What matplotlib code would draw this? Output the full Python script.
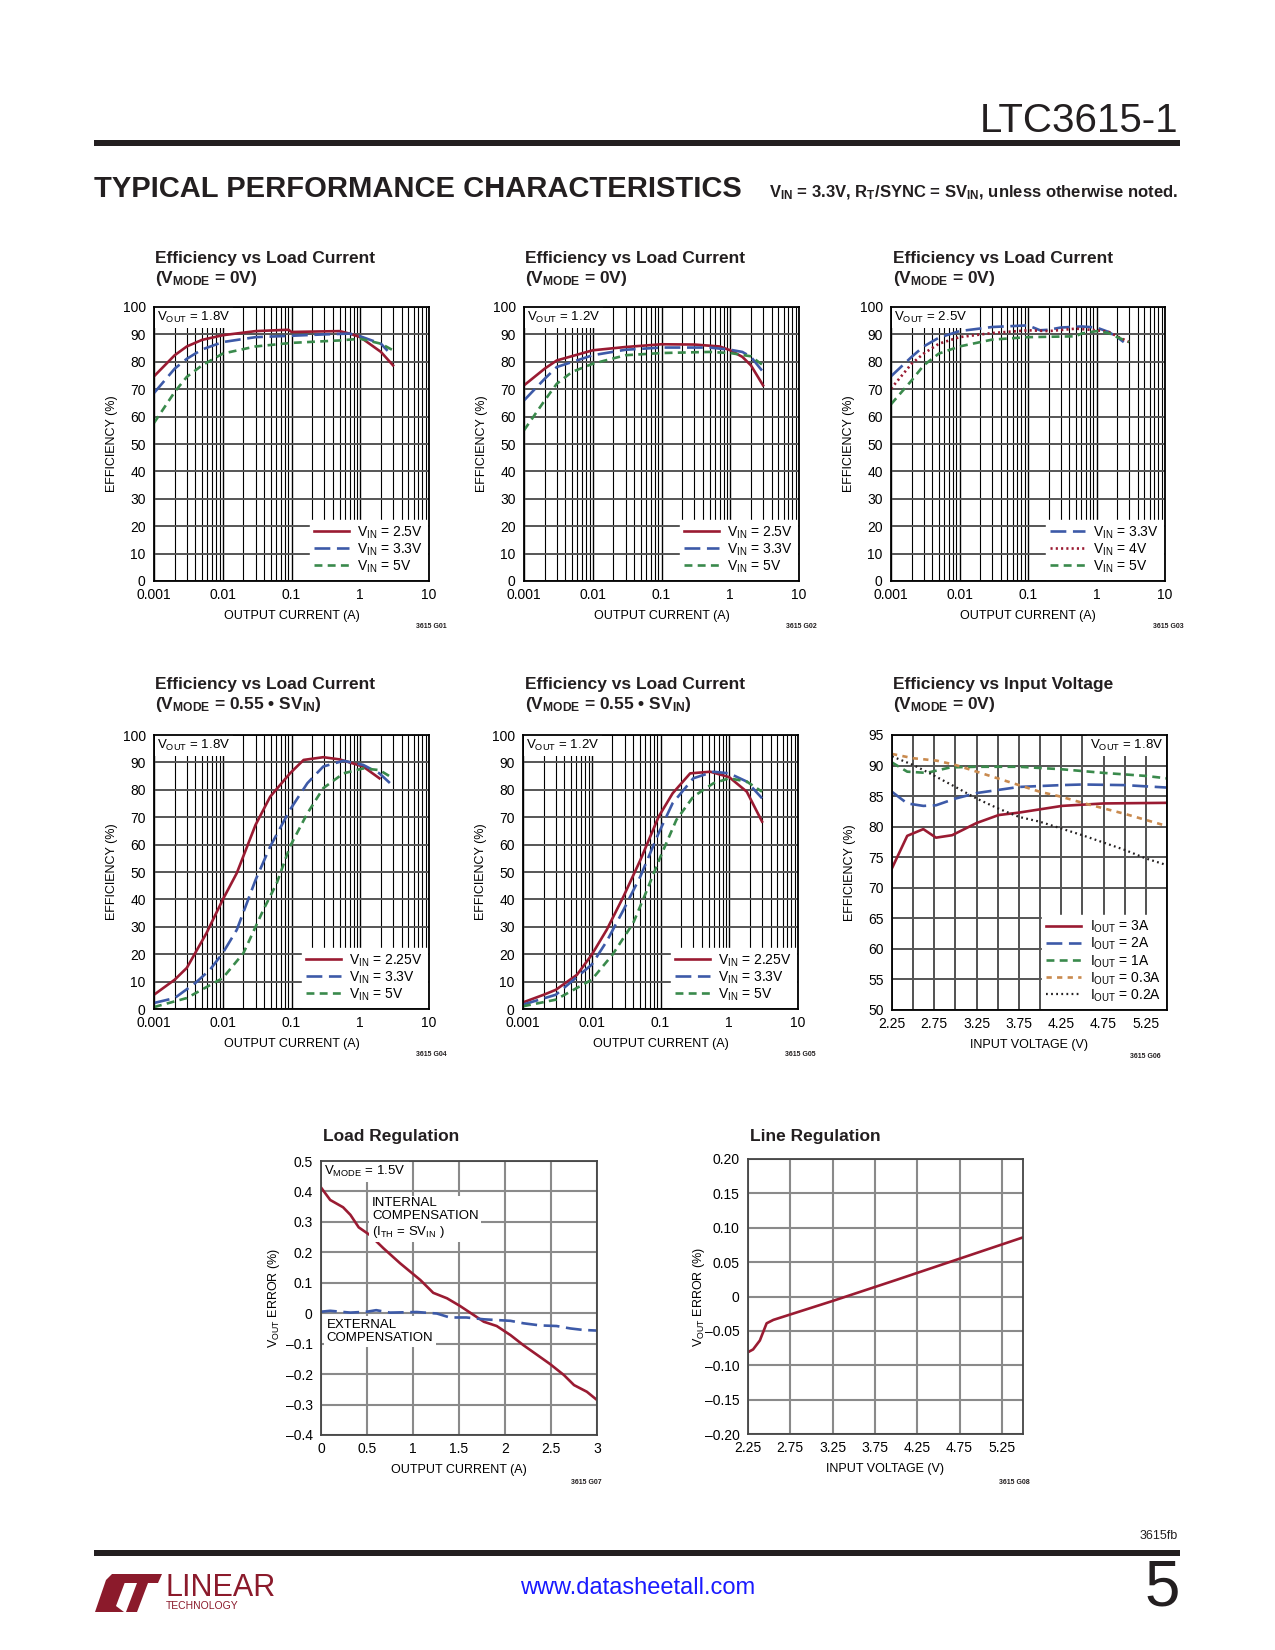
import matplotlib
matplotlib.use('Agg')
import matplotlib.pyplot as plt
from matplotlib.lines import Line2D
from matplotlib.patches import Polygon

FONT = 'Liberation Sans'
plt.rcParams['font.family'] = [FONT, 'DejaVu Sans']
plt.rcParams['mathtext.fontset'] = 'custom'
plt.rcParams['mathtext.rm'] = FONT
plt.rcParams['mathtext.it'] = FONT + ':italic'
plt.rcParams['mathtext.bf'] = FONT + ':bold'

RED = '#9a1b32'
BLUE = '#3d5aa8'
GREEN = '#3a8a4c'
ORANGE = '#c98a4e'
BLACK = '#231f20'

# ---------------- data ----------------
# G01  VOUT = 1.8V, VMODE = 0V
g01_x_25 = [0.001, 0.002, 0.003, 0.005, 0.01, 0.03, 0.09, 0.1, 0.5, 0.7, 1, 2, 3]
g01_y_25 = [74.7, 82.4, 85.6, 88.0, 89.7, 91.2, 91.7, 90.9, 91.2, 90.3, 89.0, 83.6, 78.7]
g01_x_33 = [0.001, 0.002, 0.003, 0.005, 0.01, 0.03, 0.1, 0.3, 0.7, 1, 2, 2.5]
g01_y_33 = [68.6, 77.5, 81.1, 84.5, 87.2, 89.0, 89.5, 90.0, 90.3, 89.3, 86.6, 84.0]
g01_x_5 = [0.001, 0.002, 0.003, 0.005, 0.01, 0.03, 0.1, 0.5, 1, 2, 3]
g01_y_5 = [57.7, 69.0, 74.5, 78.7, 83.0, 85.6, 86.9, 87.8, 88.4, 86.6, 84.2]

# G02  VOUT = 1.2V, VMODE = 0V
g02_x_25 = [0.001, 0.002, 0.003, 0.01, 0.03, 0.1, 0.3, 0.7, 1, 1.5, 2, 3]
g02_y_25 = [71.4, 77.5, 80.5, 84.2, 85.4, 86.4, 86.3, 85.6, 84.2, 81.8, 78.7, 71.4]
g02_x_33 = [0.001, 0.002, 0.003, 0.01, 0.03, 0.1, 0.5, 1, 1.5, 2, 3]
g02_y_33 = [65.9, 73.8, 78.1, 82.4, 84.4, 85.2, 85.2, 84.4, 83.6, 81.8, 76.3]
g02_x_5 = [0.001, 0.002, 0.003, 0.005, 0.01, 0.03, 0.1, 0.5, 1, 2, 3]
g02_y_5 = [55.0, 65.9, 72.0, 76.3, 79.3, 82.4, 83.2, 83.6, 83.2, 82.0, 78.7]

# G03  VOUT = 2.5V, VMODE = 0V
g03_x_33 = [0.001, 0.002, 0.003, 0.005, 0.01, 0.03, 0.1, 0.15, 0.2, 0.3, 0.6, 1, 1.5, 2, 2.5]
g03_y_33 = [74.7, 81.8, 85.6, 88.8, 91.2, 92.7, 93.3, 91.5, 91.7, 92.5, 92.9, 92.5, 90.9, 89.0, 87.2]
g03_x_4 = [0.001, 0.002, 0.003, 0.005, 0.01, 0.03, 0.1, 0.2, 0.5, 1, 1.5, 2, 3]
g03_y_4 = [70.2, 79.3, 83.0, 86.6, 89.0, 90.5, 91.5, 91.2, 92.1, 91.5, 90.9, 89.3, 87.2]
g03_x_5 = [0.001, 0.002, 0.003, 0.005, 0.01, 0.03, 0.1, 0.5, 0.6, 1, 1.5, 2, 3]
g03_y_5 = [64.5, 73.2, 78.7, 83.0, 85.6, 88.1, 89.0, 89.3, 90.3, 91.2, 90.5, 89.0, 87.2]

# G04  VOUT = 1.8V, VMODE = 0.55*SVIN
g04_x_225 = [0.001, 0.002, 0.003, 0.0058, 0.01, 0.016, 0.03, 0.049, 0.095, 0.15, 0.29, 0.5, 1.1, 1.9]
g04_y_225 = [5.2, 10.7, 15.0, 27.7, 39.9, 49.6, 67.2, 77.5, 86.0, 90.9, 91.9, 91.1, 88.5, 84.2]
g04_x_33 = [0.001, 0.002, 0.004, 0.0065, 0.01, 0.016, 0.03, 0.049, 0.095, 0.17, 0.29, 0.57, 1.1, 1.9, 3]
g04_y_33 = [2.2, 4.0, 9.5, 14.3, 20.4, 28.9, 47.1, 59.3, 72.7, 82.4, 88.5, 90.6, 89.1, 86.0, 81.4]
g04_x_5 = [0.001, 0.003, 0.01, 0.02, 0.039, 0.061, 0.095, 0.17, 0.29, 0.57, 1.1, 1.9, 3]
g04_y_5 = [0.7, 4.0, 11.3, 20.4, 36.2, 45.9, 59.3, 71.4, 80.6, 86.0, 87.8, 87.2, 84.2]

# G05  VOUT = 1.2V, VMODE = 0.55*SVIN
g05_x_225 = [0.001, 0.002, 0.003, 0.0061, 0.01, 0.0165, 0.029, 0.051, 0.094, 0.15, 0.27, 0.53, 1.0, 1.8, 3]
g05_y_225 = [2.4, 5.2, 7.0, 12.5, 19.8, 28.9, 41.1, 54.4, 70.2, 78.7, 86.0, 86.6, 84.6, 79.3, 68.4]
g05_x_33 = [0.001, 0.003, 0.01, 0.0165, 0.029, 0.051, 0.094, 0.15, 0.3, 0.59, 1.0, 1.8, 3]
g05_y_33 = [1.6, 5.2, 16.2, 24.7, 36.2, 48.4, 64.2, 75.1, 84.2, 86.6, 86.0, 83.0, 76.9]
g05_x_5 = [0.001, 0.003, 0.01, 0.02, 0.04, 0.061, 0.1, 0.17, 0.3, 0.59, 1.0, 1.8, 3]
g05_y_5 = [1.0, 3.4, 10.7, 19.8, 31.3, 42.3, 55.6, 69.0, 77.5, 82.4, 84.2, 83.0, 79.3]

# G06  efficiency vs input voltage, VOUT = 1.8V
g06_x_3a = [2.25, 2.43, 2.62, 2.77, 2.96, 3.25, 3.51, 3.75, 4.26, 4.75, 5.5]
g06_y_3a = [73.2, 78.5, 79.6, 78.2, 78.6, 80.6, 81.9, 82.3, 83.4, 83.8, 83.9]
g06_x_2a = [2.25, 2.43, 2.62, 2.77, 3.0, 3.25, 3.5, 3.75, 4.25, 4.5, 5.0, 5.5]
g06_y_2a = [85.7, 83.8, 83.4, 83.5, 84.6, 85.5, 86.0, 86.5, 86.8, 86.9, 86.8, 86.4]
g06_x_1a = [2.25, 2.43, 2.66, 2.94, 3.25, 3.75, 4.25, 4.75, 5.25, 5.5]
g06_y_1a = [90.5, 89.0, 88.8, 89.7, 89.8, 89.8, 89.4, 88.8, 88.3, 87.9]
g06_x_03a = [2.25, 2.5, 2.78, 3.0, 3.25, 3.5, 3.75, 4.0, 4.25, 4.5, 4.75, 5.0, 5.25, 5.5]
g06_y_03a = [91.9, 91.2, 90.8, 90.1, 89.0, 87.9, 86.8, 85.7, 84.9, 83.9, 83.0, 82.1, 81.1, 80.1]
g06_x_02a = [2.25, 2.5, 2.7, 3.0, 3.25, 3.5, 3.75, 4.0, 4.25, 4.5, 4.75, 5.0, 5.25, 5.5]
g06_y_02a = [91.5, 90.1, 88.7, 86.5, 84.6, 83.0, 81.6, 80.8, 79.7, 78.6, 77.4, 76.2, 74.8, 73.7]

# G07  load regulation
g07_x_int = [0, 0.1, 0.24, 0.32, 0.41, 0.53, 0.68, 0.86, 1.08, 1.22, 1.37, 1.51, 1.66, 1.77,
             1.91, 2.06, 2.2, 2.35, 2.49, 2.64, 2.75, 2.89, 3.0]
g07_y_int = [0.413, 0.372, 0.348, 0.323, 0.282, 0.257, 0.213, 0.164, 0.109, 0.067, 0.049, 0.024,
             -0.006, -0.028, -0.042, -0.072, -0.105, -0.137, -0.167, -0.203, -0.236, -0.258, -0.285]
g07_x_ext = [0, 0.1, 0.32, 0.5, 0.6, 0.75, 1.04, 1.26, 1.4, 1.58, 1.77, 2.06, 2.2, 2.38, 2.56,
             2.71, 2.85, 3.0]
g07_y_ext = [0.005, 0.008, 0.002, 0.005, 0.010, 0.002, 0.004, -0.001, -0.014, -0.014, -0.020,
             -0.025, -0.033, -0.040, -0.042, -0.050, -0.055, -0.057]

# G08  line regulation
g08_x = [2.25, 2.31, 2.39, 2.47, 2.55, 3.25, 4.0, 4.75, 5.5]
g08_y = [-0.081, -0.077, -0.064, -0.039, -0.034, -0.0065, 0.024, 0.055, 0.086]

log_ticks = [0.001, 0.01, 0.1, 1, 10]
log_labels = ['0.001', '0.01', '0.1', '1', '10']

W, H = 1275, 1650
fig = plt.figure(figsize=(W / 100, H / 100), dpi=100)

TITLE_FS = 12.5
LABEL_FS = 9
TAG_FS = 9.5
LEG_FS = 10


def box(l, t, r, b):
    return fig.add_axes([l / W, 1 - b / H, (r - l) / W, (b - t) / H])


def sub(base, s):
    return base + r'$_{\mathregular{' + s + '}}$'


def frame(ax, lw=1.3, color='black'):
    for s in ax.spines.values():
        s.set_linewidth(lw)
        s.set_color(color)
        s.set_zorder(5)
    ax.tick_params(length=0, labelsize=10, pad=5)
    ax.tick_params(axis='y', pad=6)


def eff_axes(l, t, r, b):
    ax = box(l, t, r, b)
    ax.set_xscale('log')
    ax.set_xlim(0.001, 10)
    ax.set_ylim(0, 100)
    ax.set_xticks(log_ticks)
    ax.set_xticklabels(log_labels)
    ax.set_yticks(range(0, 101, 10))
    ax.grid(which='major', axis='x', color='black', lw=1.0)
    ax.grid(which='minor', axis='x', color='black', lw=0.8)
    ax.grid(which='major', axis='y', color='#555555', lw=1.4)
    ax.tick_params(which='minor', length=0)
    ax.set_axisbelow(True)
    frame(ax)
    ax.set_xlabel('OUTPUT CURRENT (A)', fontsize=LABEL_FS)
    ax.set_ylabel('EFFICIENCY (%)', fontsize=LABEL_FS)
    ax.xaxis.set_label_coords(0.5, -0.105)
    ax.yaxis.set_label_coords(-0.13, 0.5)
    return ax


def title(x, y, lines):
    fig.text(x / W, 1 - y / H, lines, fontsize=TITLE_FS, fontweight='bold', va='top', ha='left',
             linespacing=1.2, color=BLACK)


def code(x, y, s):
    fig.text(x / W, 1 - y / H, s, fontsize=5, fontweight='bold', ha='right', va='center',
             color=BLACK)


def tag(ax, x, y, s, ha='left'):
    ax.text(x, y, s, transform=ax.transAxes, fontsize=TAG_FS, ha=ha, va='top', zorder=4,
            bbox=dict(facecolor='white', edgecolor='none', pad=2))


def legend(ax, handles, labels):
    lg = ax.legend(handles, labels, loc='lower right', fontsize=LEG_FS, frameon=True,
                   fancybox=False, handlelength=2.5, handletextpad=0.6, labelspacing=0.05,
                   borderpad=0.3, borderaxespad=0.15)
    lg.get_frame().set_edgecolor('white')
    lg.get_frame().set_facecolor('white')
    lg.get_frame().set_alpha(1)
    lg.set_zorder(4)


LW = 1.9
solid = dict(color=RED, lw=LW, ls='-')
longd = dict(color=BLUE, lw=LW, ls=(0, (6, 2.5)))
shortd = dict(color=GREEN, lw=LW, ls=(0, (3, 2)))
dotr = dict(color=RED, lw=LW, ls=(0, (0.8, 1.2)))
oranged = dict(color=ORANGE, lw=LW, ls=(0, (2, 2)))
dotk = dict(color=BLACK, lw=1.6, ls=(0, (0.8, 1.5)))

vin25 = [sub('V', 'IN') + ' = 2.5V', sub('V', 'IN') + ' = 3.3V', sub('V', 'IN') + ' = 5V']
vin225 = [sub('V', 'IN') + ' = 2.25V', sub('V', 'IN') + ' = 3.3V', sub('V', 'IN') + ' = 5V']
h3 = [Line2D([], [], **solid), Line2D([], [], **longd), Line2D([], [], **shortd)]

t_mode0 = 'Efficiency vs Load Current\n(' + r'V$_{\mathbf{MODE}}$' + ' = 0V)'
t_mode55 = 'Efficiency vs Load Current\n(' + r'V$_{\mathbf{MODE}}$' + ' = 0.55 \u2022 SV' + r'$_{\mathbf{IN}}$' + ')'

# ---- row 1 ----
ax = eff_axes(154, 307, 429, 581)
ax.plot(g01_x_25, g01_y_25, **solid)
ax.plot(g01_x_33, g01_y_33, **longd)
ax.plot(g01_x_5, g01_y_5, **shortd)
tag(ax, 0.012, 0.99, sub('V', 'OUT') + ' = 1.8V')
legend(ax, h3, vin25)
title(155, 251, t_mode0)
code(447, 627, '3615 G01')

ax = eff_axes(524, 307, 799, 581)
ax.plot(g02_x_25, g02_y_25, **solid)
ax.plot(g02_x_33, g02_y_33, **longd)
ax.plot(g02_x_5, g02_y_5, **shortd)
tag(ax, 0.012, 0.99, sub('V', 'OUT') + ' = 1.2V')
legend(ax, h3, vin25)
title(525, 251, t_mode0)
code(817, 627, '3615 G02')

ax = eff_axes(891, 307, 1165, 581)
ax.plot(g03_x_33, g03_y_33, **longd)
ax.plot(g03_x_4, g03_y_4, **dotr)
ax.plot(g03_x_5, g03_y_5, **shortd)
tag(ax, 0.012, 0.99, sub('V', 'OUT') + ' = 2.5V')
legend(ax, [Line2D([], [], **longd), Line2D([], [], **dotr), Line2D([], [], **shortd)],
       [sub('V', 'IN') + ' = 3.3V', sub('V', 'IN') + ' = 4V', sub('V', 'IN') + ' = 5V'])
title(893, 251, t_mode0)
code(1184, 627, '3615 G03')

# ---- row 2 ----
ax = eff_axes(154, 735, 429, 1009)
ax.plot(g04_x_225, g04_y_225, **solid)
ax.plot(g04_x_33, g04_y_33, **longd)
ax.plot(g04_x_5, g04_y_5, **shortd)
tag(ax, 0.012, 0.99, sub('V', 'OUT') + ' = 1.8V')
legend(ax, h3, vin225)
title(155, 677, t_mode55)
code(447, 1055, '3615 G04')

ax = eff_axes(523, 735, 798, 1009)
ax.plot(g05_x_225, g05_y_225, **solid)
ax.plot(g05_x_33, g05_y_33, **longd)
ax.plot(g05_x_5, g05_y_5, **shortd)
tag(ax, 0.012, 0.99, sub('V', 'OUT') + ' = 1.2V')
legend(ax, h3, vin225)
title(525, 677, t_mode55)
code(816, 1055, '3615 G05')

ax = box(892, 735, 1167, 1010)
ax.set_xlim(2.25, 5.5)
ax.set_ylim(50, 95)
ax.set_xticks([2.25, 2.75, 3.25, 3.75, 4.25, 4.75, 5.25])
ax.set_xticks([2.5, 3.0, 3.5, 4.0, 4.5, 5.0, 5.5], minor=True)
ax.set_yticks(range(50, 96, 5))
ax.grid(which='both', axis='x', color='#333333', lw=1.2)
ax.grid(which='major', axis='y', color='#555555', lw=1.4)
ax.tick_params(which='minor', length=0)
ax.set_axisbelow(True)
frame(ax)
ax.plot(g06_x_3a, g06_y_3a, **solid)
ax.plot(g06_x_2a, g06_y_2a, **longd)
ax.plot(g06_x_1a, g06_y_1a, **shortd)
ax.plot(g06_x_03a, g06_y_03a, **oranged)
ax.plot(g06_x_02a, g06_y_02a, **dotk)
tag(ax, 0.985, 0.99, sub('V', 'OUT') + ' = 1.8V', ha='right')
legend(ax, [Line2D([], [], **solid), Line2D([], [], **longd), Line2D([], [], **shortd),
            Line2D([], [], **oranged), Line2D([], [], **dotk)],
       [sub('I', 'OUT') + ' = 3A', sub('I', 'OUT') + ' = 2A', sub('I', 'OUT') + ' = 1A',
        sub('I', 'OUT') + ' = 0.3A', sub('I', 'OUT') + ' = 0.2A'])
ax.set_xlabel('INPUT VOLTAGE (V)', fontsize=LABEL_FS)
ax.set_ylabel('EFFICIENCY (%)', fontsize=LABEL_FS)
ax.xaxis.set_label_coords(0.5, -0.105)
ax.yaxis.set_label_coords(-0.13, 0.5)
title(893, 677, 'Efficiency vs Input Voltage\n(' + r'V$_{\mathbf{MODE}}$' + ' = 0V)')
code(1161, 1057, '3615 G06')

# ---- row 3 ----
GRID = '#8a8a8a'
ax = box(321, 1161, 597, 1435)
ax.set_xlim(0, 3)
ax.set_ylim(-0.4, 0.5)
ax.set_xticks([0, 0.5, 1, 1.5, 2, 2.5, 3])
ax.set_xticklabels(['0', '0.5', '1', '1.5', '2', '2.5', '3'])
ax.set_yticks([-0.4, -0.3, -0.2, -0.1, 0, 0.1, 0.2, 0.3, 0.4, 0.5])
ax.set_yticklabels(['\u20130.4', '\u20130.3', '\u20130.2', '\u20130.1', '0', '0.1', '0.2', '0.3',
                    '0.4', '0.5'])
ax.grid(True, color=GRID, lw=1.5)
ax.set_axisbelow(True)
frame(ax, color='#444444')
ax.plot(g07_x_int, g07_y_int, **solid)
ax.plot(g07_x_ext, g07_y_ext, **longd)
tag(ax, 0.012, 0.99, sub('V', 'MODE') + ' = 1.5V')
ax.text(0.185, 0.87, 'INTERNAL\nCOMPENSATION\n(' + sub('I', 'TH') + ' = SV' + r'$_{\mathregular{IN}}$' + ' )',
        transform=ax.transAxes, fontsize=TAG_FS, va='top', ha='left', linespacing=1.15, zorder=4,
        bbox=dict(facecolor='white', edgecolor='none', pad=2))
ax.text(0.02, 0.425, 'EXTERNAL\nCOMPENSATION', transform=ax.transAxes, fontsize=TAG_FS,
        va='top', ha='left', linespacing=1.15, zorder=4,
        bbox=dict(facecolor='white', edgecolor='none', pad=2))
ax.set_xlabel('OUTPUT CURRENT (A)', fontsize=LABEL_FS)
ax.set_ylabel(sub('V', 'OUT') + ' ERROR (%)', fontsize=LABEL_FS)
ax.xaxis.set_label_coords(0.5, -0.105)
ax.yaxis.set_label_coords(-0.14, 0.5)
fig.text(323 / W, 1 - 1129 / H, 'Load Regulation', fontsize=TITLE_FS, fontweight='bold', va='top',
         color=BLACK)
code(602, 1482, '3615 G07')

ax = box(748, 1159, 1023, 1434)
ax.set_xlim(2.25, 5.5)
ax.set_ylim(-0.2, 0.2)
ax.set_xticks([2.25, 2.75, 3.25, 3.75, 4.25, 4.75, 5.25])
ax.set_yticks([-0.2, -0.15, -0.1, -0.05, 0, 0.05, 0.1, 0.15, 0.2])
ax.set_yticklabels(['\u20130.20', '\u20130.15', '\u20130.10', '\u20130.05', '0', '0.05', '0.10',
                    '0.15', '0.20'])
ax.grid(True, color=GRID, lw=1.5)
ax.set_axisbelow(True)
frame(ax, color='#444444')
ax.plot(g08_x, g08_y, **solid)
ax.set_xlabel('INPUT VOLTAGE (V)', fontsize=LABEL_FS)
ax.set_ylabel(sub('V', 'OUT') + ' ERROR (%)', fontsize=LABEL_FS)
ax.xaxis.set_label_coords(0.5, -0.105)
ax.yaxis.set_label_coords(-0.15, 0.5)
fig.text(750 / W, 1 - 1129 / H, 'Line Regulation', fontsize=TITLE_FS, fontweight='bold', va='top',
         color=BLACK)
code(1030, 1482, '3615 G08')

# ---- page header / footer ----
fig.text(1178 / W, 1 - 121 / H, 'LTC3615-1', fontsize=29, ha='right', va='center', color=BLACK)
fig.add_artist(plt.Rectangle((94 / W, 1 - 146 / H), 1086 / W, 6 / H, transform=fig.transFigure,
                             color=BLACK, lw=0))
fig.text(94 / W, 1 - 189 / H, 'TYPICAL PERFORMANCE CHARACTERISTICS', fontsize=21,
         fontweight='bold', ha='left', va='center', color=BLACK)
fig.text(1178 / W, 1 - 193 / H,
         r'V$_{\mathbf{IN}}$' + ' = 3.3V, R' + r'$_{\mathbf{T}}$' + '/SYNC = SV' + r'$_{\mathbf{IN}}$'
         + ', unless otherwise noted.', fontsize=12, fontweight='bold', ha='right', va='center',
         color=BLACK)

fig.text(1178 / W, 1 - 1536 / H, '3615fb', fontsize=9, ha='right', va='center', color=BLACK)
fig.add_artist(plt.Rectangle((94 / W, 1 - 1556 / H), 1086 / W, 6 / H, transform=fig.transFigure,
                             color=BLACK, lw=0))
fig.text(638 / W, 1 - 1588 / H, 'www.datasheetall.com', fontsize=17, ha='center', va='center',
         color='#1a1aff')
fig.text(1180 / W, 1 - 1588 / H, '5', fontsize=46, ha='right', va='center', color=BLACK)

# Linear Technology mark
LOGO = '#8b1a2b'
fig.add_artist(Polygon([(95 / W, 1 - 1612 / H), (106 / W, 1 - 1580 / H), (112 / W, 1 - 1574 / H),
                        (128 / W, 1 - 1574 / H), (116 / W, 1 - 1606 / H), (124 / W, 1 - 1612 / H)],
                       closed=True, transform=fig.transFigure, color=LOGO, lw=0))
fig.add_artist(Polygon([(120 / W, 1 - 1574 / H), (162 / W, 1 - 1574 / H), (158 / W, 1 - 1583 / H),
                        (148 / W, 1 - 1583 / H), (137 / W, 1 - 1612 / H), (126 / W, 1 - 1612 / H),
                        (137 / W, 1 - 1583 / H), (118 / W, 1 - 1583 / H)],
                       closed=True, transform=fig.transFigure, color=LOGO, lw=0))
fig.text(166 / W, 1 - 1588 / H, 'LINEAR', fontsize=22, ha='left', va='center', color=LOGO)
fig.text(166 / W, 1 - 1606 / H, 'TECHNOLOGY', fontsize=7.5, ha='left', va='center', color=LOGO)

fig.savefig('out.png', dpi=100, facecolor='white')
